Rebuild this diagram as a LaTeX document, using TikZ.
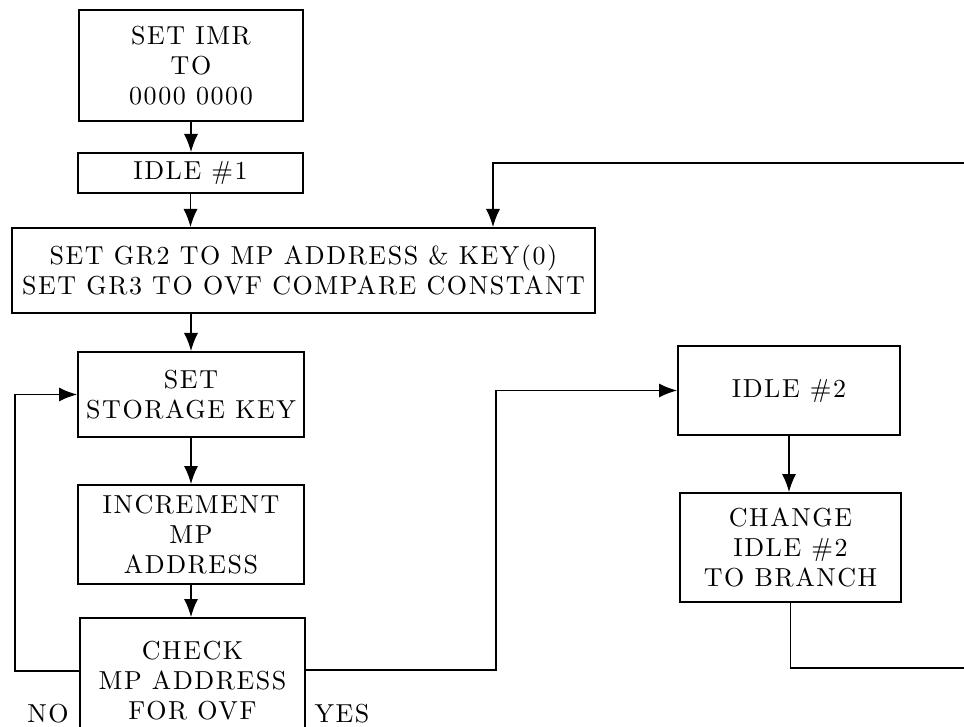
\documentclass[tikz,border=0pt]{standalone}
\usepackage{fontspec}
\newfontfamily\flowfont{lmroman10-regular.otf}[LetterSpace=6]
\usetikzlibrary{arrows.meta}
\usetikzlibrary{positioning}

\begin{document}
\begin{tikzpicture}[x=0.5pt,y=-0.5pt,line width=0.6pt]
    \tikzstyle{every node}=[font=\flowfont\fontsize{13}{15}\selectfont,align=center,inner sep=1pt]
    \tikzstyle{stepbox}=[draw=black,line width=1pt]
    \tikzstyle{flow}=[-{Latex[length=9pt,width=7pt]}]

    \useasboundingbox (0,0) rectangle (964,727);
    \clip (0,0) rectangle (964,727);

    \node[stepbox,minimum width=112pt,minimum height=55.5pt] (imr) at (191,65.5) {SET IMR\\TO\\0000 0000} ;
    \node[stepbox,minimum width=112.5pt,minimum height=20pt] (idle1) at (190.5,173) {IDLE \#1} ;
    \node[stepbox,minimum width=291.5pt,minimum height=42.5pt] (keyset) at (303.5,270.5) {SET GR2 TO MP ADDRESS \& KEY(0)\\SET GR3 TO OVF COMPARE CONSTANT} ;
    \node[stepbox,minimum width=113pt,minimum height=42.5pt] (storkey) at (191,394.5) {SET\\STORAGE KEY} ;
    \node[stepbox,minimum width=113pt,minimum height=49.5pt] (incr) at (191,534.5) {INCREMENT\\MP\\ADDRESS} ;
    \node[stepbox,minimum width=112.5pt,minimum height=63pt] (check) at (192.5,681) {CHECK\\MP ADDRESS\\FOR OVF} ;
    \node[stepbox,minimum width=111pt,minimum height=44.5pt] (idle2) at (789,390.5) {IDLE \#2} ;
    \node[stepbox,minimum width=110.5pt,minimum height=54.5pt] (change) at (790.5,547.5) {CHANGE\\IDLE \#2\\TO BRANCH} ;

    \node (nolbl) at (48,714) {NO} ;
    \node (yeslbl) at (342,714) {YES} ;

    \coordinate (retout) at (980,668) ;
    \coordinate (retin) at (980,163) ;

    \draw[flow] (imr.south) -- (imr.south |- idle1.north) ;
    \draw[flow] (idle1.south) -- (idle1.south |- keyset.north) ;
    \draw[flow] (keyset.south -| storkey.north) -- (storkey.north) ;
    \draw[flow] (storkey.south) -- (incr.north) ;
    \draw[flow] (incr.south) -- (incr.south |- check.north) ;
    \draw[flow] ([yshift=5pt]check.west) -- ++(-32pt,0) |- (storkey.west) ;
    \draw[flow] ([yshift=5.5pt]check.east) -- ++(95pt,0) |- (idle2.west) ;
    \draw[flow] (idle2.south) -- (idle2.south |- change.north) ;
    \draw (change.south) |- (retout) ;
    \draw[flow] (retin) -| ([xshift=94.75pt]keyset.north) ;

\end{tikzpicture}
\end{document}
